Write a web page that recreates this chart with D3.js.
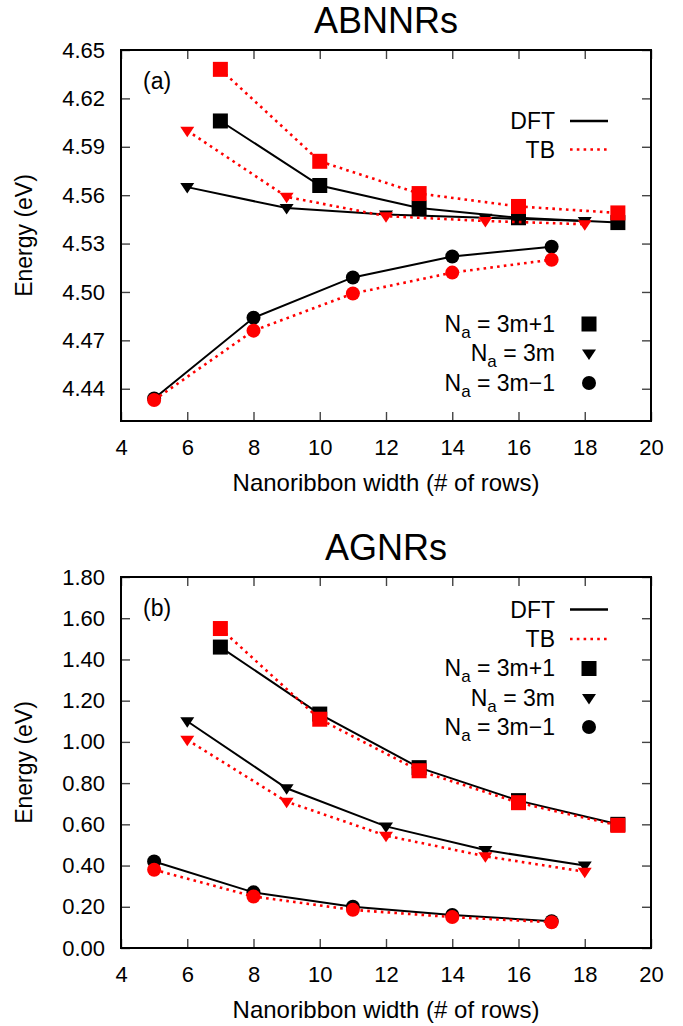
<!DOCTYPE html>
<html>
<head>
<meta charset="utf-8">
<script src="https://cdn.jsdelivr.net/npm/d3@7/dist/d3.min.js"></script>
<style>
  body { margin: 0; background: #fff; }
  text { font-family: "Liberation Sans", Helvetica, Arial, sans-serif; fill: #000; }
</style>
</head>
<body>
<svg id="chart" width="683" height="1026"></svg>
<script>
// widths (# of rows) for each family
const widthsPlus1 = [7, 10, 13, 16, 19];
const widths3m = [6, 9, 12, 15, 18];
const widthsMinus1 = [5, 8, 11, 14, 17];

// (a) ABNNRs, energy in eV
const abnnrDftPlus1 = [4.606, 4.566, 4.552, 4.546, 4.543];
const abnnrTbPlus1 = [4.638, 4.581, 4.561, 4.553, 4.549];
const abnnrDft3m = [4.565, 4.552, 4.548, 4.546, 4.544];
const abnnrTb3m = [4.600, 4.559, 4.547, 4.544, 4.542];
const abnnrDftMinus1 = [4.434, 4.484, 4.509, 4.522, 4.528];
const abnnrTbMinus1 = [4.433, 4.476, 4.499, 4.512, 4.520];

// (b) AGNRs, energy in eV
const agnrDftPlus1 = [1.46, 1.135, 0.875, 0.715, 0.60];
const agnrTbPlus1 = [1.55, 1.11, 0.86, 0.705, 0.595];
const agnrDft3m = [1.10, 0.775, 0.59, 0.475, 0.40];
const agnrTb3m = [1.01, 0.71, 0.545, 0.445, 0.37];
const agnrDftMinus1 = [0.42, 0.27, 0.20, 0.16, 0.13];
const agnrTbMinus1 = [0.38, 0.25, 0.185, 0.15, 0.125];

const xTicks = [4, 6, 8, 10, 12, 14, 16, 18, 20];
const abnnrTicks = [4.44, 4.47, 4.50, 4.53, 4.56, 4.59, 4.62, 4.65];
const agnrTicks = [0, 0.2, 0.4, 0.6, 0.8, 1.0, 1.2, 1.4, 1.6, 1.8];

const familyLabels = ['3m+1', '3m', '3m\u22121'];

const svg = d3.select('#chart');
const left = 121, right = 651, plotH = 371;

const x = d3.scaleLinear().domain([4, 20]).range([left, right]);

// marker shapes
function drawMarker(g, shape, color) {
	if (shape === 'square') {
		g.append('rect').attr('x', -7.5).attr('y', -7.5).attr('width', 15).attr('height', 15).attr('fill', color);
	} else if (shape === 'tri') {
		g.append('path').attr('d', 'M-7,-4L7,-4L0,6.5Z').attr('fill', color);
	} else {
		g.append('circle').attr('r', 7).attr('fill', color);
	}
}

function drawPanel(p) {
	const top = p.top;
	const y = d3.scaleLinear().domain(p.domain).range([top + plotH, top]);

	const g = svg.append('g');

	// axes with inward ticks
	const ax = g.append('g').attr('transform', `translate(0,${top + plotH})`)
		.call(d3.axisBottom(x).tickValues(xTicks).tickSize(-9).tickPadding(18));
	g.append('g').attr('transform', `translate(0,${top})`)
		.call(d3.axisTop(x).tickValues(xTicks).tickSize(-9).tickFormat(''));
	const ay = g.append('g').attr('transform', `translate(${left},0)`)
		.call(d3.axisLeft(y).tickValues(p.ticks).tickSize(-9).tickPadding(16).tickFormat(d3.format('.2f')));
	g.append('g').attr('transform', `translate(${right},0)`)
		.call(d3.axisRight(y).tickValues(p.ticks).tickSize(-9).tickFormat(''));

	g.selectAll('.domain').remove();
	g.selectAll('.tick line').attr('stroke', '#444').attr('stroke-width', 1.4);
	g.selectAll('.tick text').attr('font-size', 22).attr('font-family', '"Liberation Sans", Helvetica, Arial, sans-serif');

	// frame
	g.append('rect').attr('x', left).attr('y', top).attr('width', right - left).attr('height', plotH)
		.attr('fill', 'none').attr('stroke', '#000').attr('stroke-width', 2);

	// title and axis labels
	g.append('text').attr('x', (left + right) / 2).attr('y', top - 17)
		.attr('text-anchor', 'middle').attr('font-size', 36).text(p.title);
	g.append('text').attr('x', (left + right) / 2).attr('y', top + plotH + 70)
		.attr('text-anchor', 'middle').attr('font-size', 24).text('Nanoribbon width (# of rows)');
	g.append('text').attr('transform', `translate(24,${top + plotH / 2}) rotate(-90)`)
		.attr('dy', '0.35em').attr('text-anchor', 'middle').attr('font-size', 23).text('Energy (eV)');
	g.append('text').attr('x', 143).attr('y', top + 39).attr('font-size', 23).text(p.tag);

	const line = d3.line().x(d => x(d[0])).y(d => y(d[1]));
	const shapes = ['square', 'tri', 'circle'];
	const widths = [widthsPlus1, widths3m, widthsMinus1];

	// DFT first, TB on top
	[['dft', '#000'], ['tb', '#ff0000']].forEach(([kind, color]) => {
		p[kind].forEach((vals, i) => {
			const pts = vals.map((v, j) => [widths[i][j], v]);
			const path = g.append('path').datum(pts).attr('d', line)
				.attr('fill', 'none').attr('stroke', color);
			if (kind === 'dft') path.attr('stroke-width', 2);
			else path.attr('stroke-width', 2.6).attr('stroke-dasharray', '2.6 4.2');
			pts.forEach(pt => {
				const m = g.append('g').attr('transform', `translate(${x(pt[0])},${y(pt[1])})`);
				drawMarker(m, shapes[i], color);
			});
		});
	});

	// legend
	const lg = g.append('g');
	const textEnd = 555, sx0 = 570, sx1 = 608, mx = 589;
	const rowDft = top + p.legendRows[0], rowTb = top + p.legendRows[1];
	lg.append('text').attr('x', textEnd).attr('y', rowDft).attr('dy', '0.35em')
		.attr('text-anchor', 'end').attr('font-size', 23).text('DFT');
	lg.append('line').attr('x1', sx0).attr('x2', sx1).attr('y1', rowDft).attr('y2', rowDft)
		.attr('stroke', '#000').attr('stroke-width', 2.4);
	lg.append('text').attr('x', textEnd).attr('y', rowTb).attr('dy', '0.35em')
		.attr('text-anchor', 'end').attr('font-size', 23).text('TB');
	lg.append('line').attr('x1', sx0).attr('x2', sx1).attr('y1', rowTb).attr('y2', rowTb)
		.attr('stroke', '#ff0000').attr('stroke-width', 2.6).attr('stroke-dasharray', '2.6 4.2');

	familyLabels.forEach((lab, i) => {
		const ry = top + p.legendRows[2 + i];
		const t = lg.append('text').attr('x', textEnd).attr('y', ry + 7.5)
			.attr('text-anchor', 'end').attr('font-size', 23);
		t.append('tspan').text('N');
		t.append('tspan').attr('font-size', 17).attr('dy', 6).text('a');
		t.append('tspan').attr('dy', -6).text(' = ' + lab);
		const m = lg.append('g').attr('transform', `translate(${mx},${ry})`);
		drawMarker(m, shapes[i], '#000');
	});
}

drawPanel({
	top: 50,
	title: 'ABNNRs',
	tag: '(a)',
	domain: [4.42, 4.65],
	ticks: abnnrTicks,
	dft: [abnnrDftPlus1, abnnrDft3m, abnnrDftMinus1],
	tb: [abnnrTbPlus1, abnnrTb3m, abnnrTbMinus1],
	legendRows: [71, 99.5, 274, 303.5, 333]
});

drawPanel({
	top: 577,
	title: 'AGNRs',
	tag: '(b)',
	domain: [0, 1.8],
	ticks: agnrTicks,
	dft: [agnrDftPlus1, agnrDft3m, agnrDftMinus1],
	tb: [agnrTbPlus1, agnrTb3m, agnrTbMinus1],
	legendRows: [32.5, 62, 91.5, 121, 150]
});
</script>
</body>
</html>
